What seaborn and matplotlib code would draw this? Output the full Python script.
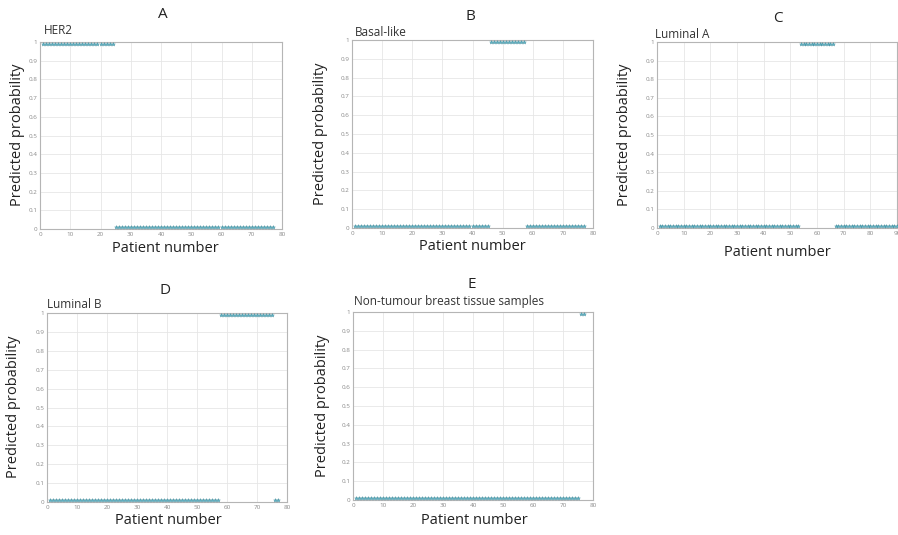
import matplotlib
matplotlib.use("Agg")
import matplotlib.pyplot as plt
import numpy as np
import pandas as pd
import seaborn as sns

# Predicted probability per patient for each subtype classifier
her2 = [0.99] * 24 + [0.01] * 53
basal_like = [0.01] * 45 + [0.99] * 12 + [0.01] * 20
luminal_a = [0.01] * 53 + [0.99] * 13 + [0.01] * 24
luminal_b = [0.01] * 57 + [0.99] * 18 + [0.01] * 2
non_tumour = [0.01] * 75 + [0.99] * 2

panel_letters = ["A", "B", "C", "D", "E"]
panel_names = ["HER2", "Basal-like", "Luminal A", "Luminal B",
               "Non-tumour breast tissue samples"]
panel_series = [her2, basal_like, luminal_a, luminal_b, non_tumour]
panel_xmax = [80, 80, 90, 80, 80]

sns.set_theme(style="whitegrid")
plt.rcParams["font.family"] = ["Open Sans", "DejaVu Sans"]

W, H = 898, 535
fig = plt.figure(figsize=(W / 100, H / 100), dpi=100)
fig.patch.set_facecolor("white")

# axes boxes in pixels: left, top, right, bottom
boxes = [(40, 42, 282, 229), (352, 40, 593, 228), (657, 42, 897, 228),
         (47, 313, 287, 502), (353, 312, 593, 500)]
letter_pos = [(163, 14), (470, 16), (778, 18), (165, 291), (472, 284)]
name_pos = [(44, 30), (355, 32), (655, 34), (47, 305), (354, 301)]
xlabel_pos = [(165, 248), (472, 247), (777, 253), (168, 521), (474, 521)]
ylabel_pos = [(18, 135), (321, 134), (625, 135), (14, 407), (322, 406)]

marker_color = "#5ab2c6"
grid_color = "#e6e6e6"
tick_color = "#8a8a8a"

for i in range(5):
    l, t, r, b = boxes[i]
    ax = fig.add_axes([l / W, 1 - b / H, (r - l) / W, (b - t) / H])
    vals = panel_series[i]
    df = pd.DataFrame({"patient": np.arange(1, len(vals) + 1), "prob": vals})
    sns.scatterplot(data=df, x="patient", y="prob", ax=ax, marker="*",
                    s=8, color=marker_color, edgecolor="#3b8796",
                    linewidth=0.25, legend=False, clip_on=False, zorder=3)
    xmax = panel_xmax[i]
    ax.set_xlim(0, xmax)
    ax.set_ylim(0, 1)
    ax.set_xticks(np.arange(0, xmax + 1, 10))
    ax.set_yticks(np.round(np.arange(0, 1.01, 0.1), 1))
    ax.set_yticklabels(["0"] + [f"{v:.1f}" for v in np.arange(0.1, 0.95, 0.1)] + ["1"])
    ax.set_xlabel("")
    ax.set_ylabel("")
    ax.tick_params(axis="both", labelsize=4.5, colors=tick_color, length=2,
                   direction="in", pad=2, width=0.5)
    ax.grid(True, color=grid_color, linewidth=0.6)
    for sp in ax.spines.values():
        sp.set_visible(True)
        sp.set_color("#b5b5b5")
        sp.set_linewidth(0.8)
    ax.set_facecolor("white")

    x, y = letter_pos[i]
    fig.text(x / W, 1 - y / H, panel_letters[i], ha="center", va="center",
             fontsize=11, color="#222222")
    x, y = name_pos[i]
    fig.text(x / W, 1 - y / H, panel_names[i], ha="left", va="center",
             fontsize=8.5, color="#333333")
    x, y = xlabel_pos[i]
    fig.text(x / W, 1 - y / H, "Patient number", ha="center", va="center",
             fontsize=10.5, color="#222222")
    x, y = ylabel_pos[i]
    fig.text(x / W, 1 - y / H, "Predicted probability", ha="center",
             va="center", rotation=90, fontsize=10.5, color="#222222")

fig.savefig("out.png", dpi=100, facecolor="white")
